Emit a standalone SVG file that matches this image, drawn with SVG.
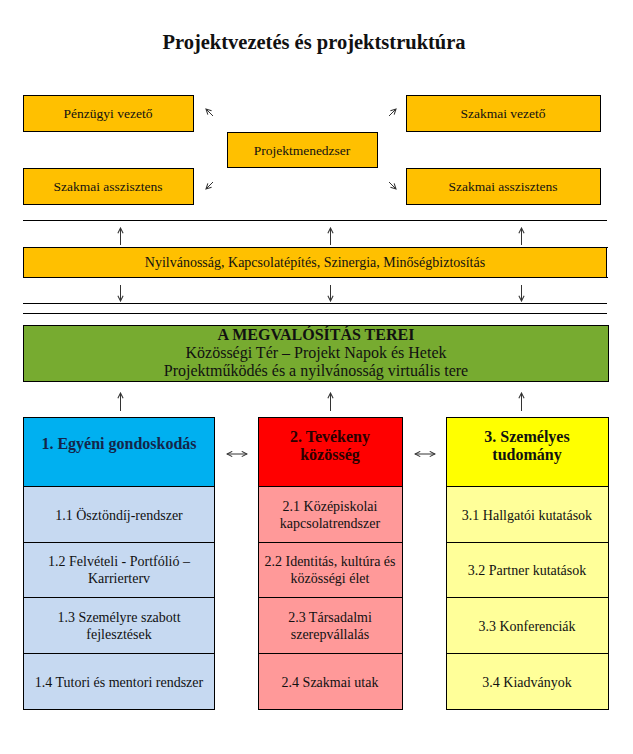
<svg xmlns="http://www.w3.org/2000/svg" width="633" height="754" viewBox="0 0 633 754">
<defs>
<style>
text{font-family:"Liberation Serif","Times New Roman",serif;fill:#111;text-anchor:middle}
.t{font-size:13.5px}
.b{font-size:14px}
.c{font-size:14px}
.g{font-size:16px}
.h{font-size:16px;font-weight:bold}
.box{stroke:#000;stroke-width:1}
.or{fill:#FFC000}
.rule{stroke:#000;stroke-width:1}
.con{stroke:#333;stroke-width:1;fill:none}
</style>
<marker id="ah" viewBox="0 0 8 8" refX="7" refY="4" markerWidth="7" markerHeight="7" markerUnits="userSpaceOnUse" orient="auto-start-reverse">
<path d="M1,1 L7,4 L1,7" fill="none" stroke="#333" stroke-width="1.2"/>
</marker>
</defs>
<rect width="633" height="754" fill="#fff"/>
<text x="314" y="49" style="font-size:20.5px;font-weight:bold">Projektvezetés és projektstruktúra</text>

<g id="penzugyi-vezeto"><rect class="box or" x="23.5" y="95.5" width="170" height="36"/><text class="t" x="108" y="118">Pénzügyi vezető</text></g>
<g id="szakmai-asszisztens-bal"><rect class="box or" x="23.5" y="168.5" width="170" height="36"/><text class="t" x="108" y="191">Szakmai asszisztens</text></g>
<g id="projektmenedzser"><rect class="box or" x="227.5" y="132.5" width="150" height="35"/><text class="t" x="302" y="154.5">Projektmenedzser</text></g>
<g id="szakmai-vezeto"><rect class="box or" x="406.5" y="95.5" width="194" height="36"/><text class="t" x="503" y="118">Szakmai vezető</text></g>
<g id="szakmai-asszisztens-jobb"><rect class="box or" x="406.5" y="168.5" width="194" height="36"/><text class="t" x="503" y="191">Szakmai asszisztens</text></g>

<g id="rules">
<line class="rule" x1="23" y1="220.5" x2="607" y2="220.5"/>
<line class="rule" x1="23" y1="303.5" x2="607" y2="303.5"/>
<line class="rule" x1="23" y1="313.5" x2="607" y2="313.5"/>
</g>

<g id="nyilvanossag"><rect class="box or" x="23.5" y="247.5" width="583" height="30"/><line class="rule" x1="606" y1="247.5" x2="608" y2="247.5"/><line class="rule" x1="606" y1="277.5" x2="608" y2="277.5"/><text class="b" x="315" y="266.5">Nyilvánosság, Kapcsolatépítés, Szinergia, Minőségbiztosítás</text></g>

<g id="megvalositas-terei"><rect class="box" x="23.5" y="325.5" width="585" height="56" fill="#77AB30"/>
<text class="h" x="316" y="340">A MEGVALÓSÍTÁS TEREI</text>
<text class="g" x="316" y="358">Közösségi Tér – Projekt Napok és Hetek</text>
<text class="g" x="316" y="376">Projektműködés és a nyilvánosság virtuális tere</text></g>

<g id="egyeni-gondoskodas">
<rect class="box" x="23.5" y="417.5" width="191" height="69" fill="#00B0F0"/>
<text class="h" x="119" y="448.5" style="fill:#14254a">1. Egyéni gondoskodás</text>
<rect class="box" x="23.5" y="486.5" width="191" height="56" fill="#C6D9F1"/>
<text class="c" x="119" y="519.5">1.1 Ösztöndíj-rendszer</text>
<rect class="box" x="23.5" y="542.5" width="191" height="55" fill="#C6D9F1"/>
<text class="c" x="119" y="566">1.2 Felvételi - Portfólió –</text>
<text class="c" x="119" y="583">Karrierterv</text>
<rect class="box" x="23.5" y="597.5" width="191" height="56" fill="#C6D9F1"/>
<text class="c" x="119" y="622">1.3 Személyre szabott</text>
<text class="c" x="119" y="639">fejlesztések</text>
<rect class="box" x="23.5" y="653.5" width="191" height="56" fill="#C6D9F1"/>
<text class="c" x="119" y="686.5">1.4 Tutori és mentori rendszer</text>
</g>

<g id="tevekeny-kozosseg">
<rect class="box" x="258.5" y="417.5" width="144" height="69" fill="#FF0000"/>
<text class="h" x="330" y="442" style="fill:#2a0000">2. Tevékeny</text>
<text class="h" x="330" y="460" style="fill:#2a0000">közösség</text>
<rect class="box" x="258.5" y="486.5" width="144" height="56" fill="#FF9999"/>
<text class="c" x="330" y="511">2.1 Középiskolai</text>
<text class="c" x="330" y="528">kapcsolatrendszer</text>
<rect class="box" x="258.5" y="542.5" width="144" height="55" fill="#FF9999"/>
<text class="c" x="330" y="566">2.2 Identitás, kultúra és</text>
<text class="c" x="330" y="583">közösségi élet</text>
<rect class="box" x="258.5" y="597.5" width="144" height="56" fill="#FF9999"/>
<text class="c" x="330" y="622">2.3 Társadalmi</text>
<text class="c" x="330" y="639">szerepvállalás</text>
<rect class="box" x="258.5" y="653.5" width="144" height="56" fill="#FF9999"/>
<text class="c" x="330" y="686.5">2.4 Szakmai utak</text>
</g>

<g id="szemelyes-tudomany">
<rect class="box" x="446.5" y="417.5" width="162" height="69" fill="#FFFF00"/>
<text class="h" x="527" y="442">3. Személyes</text>
<text class="h" x="527" y="460">tudomány</text>
<rect class="box" x="446.5" y="486.5" width="162" height="56" fill="#FFFF99"/>
<text class="c" x="527" y="519.5">3.1 Hallgatói kutatások</text>
<rect class="box" x="446.5" y="542.5" width="162" height="55" fill="#FFFF99"/>
<text class="c" x="527" y="574.5">3.2 Partner kutatások</text>
<rect class="box" x="446.5" y="597.5" width="162" height="56" fill="#FFFF99"/>
<text class="c" x="527" y="630.5">3.3 Konferenciák</text>
<rect class="box" x="446.5" y="653.5" width="162" height="56" fill="#FFFF99"/>
<text class="c" x="527" y="686.5">3.4 Kiadványok</text>
</g>

<g id="connectors" class="con">
<line x1="213" y1="116" x2="206" y2="109" marker-end="url(#ah)"/>
<line x1="389" y1="116" x2="396" y2="109" marker-end="url(#ah)"/>
<line x1="213" y1="182" x2="206" y2="189" marker-end="url(#ah)"/>
<line x1="389" y1="182" x2="396" y2="189" marker-end="url(#ah)"/>
<line x1="120.5" y1="245" x2="120.5" y2="228" marker-end="url(#ah)"/>
<line x1="330.5" y1="245" x2="330.5" y2="228" marker-end="url(#ah)"/>
<line x1="521.5" y1="245" x2="521.5" y2="228" marker-end="url(#ah)"/>
<line x1="120.5" y1="285" x2="120.5" y2="301" marker-end="url(#ah)"/>
<line x1="330.5" y1="285" x2="330.5" y2="301" marker-end="url(#ah)"/>
<line x1="521.5" y1="285" x2="521.5" y2="301" marker-end="url(#ah)"/>
<line x1="120.5" y1="411" x2="120.5" y2="393" marker-end="url(#ah)"/>
<line x1="330.5" y1="411" x2="330.5" y2="393" marker-end="url(#ah)"/>
<line x1="521.5" y1="411" x2="521.5" y2="393" marker-end="url(#ah)"/>
<line x1="227" y1="454" x2="247" y2="454" marker-start="url(#ah)" marker-end="url(#ah)"/>
<line x1="415" y1="454" x2="435" y2="454" marker-start="url(#ah)" marker-end="url(#ah)"/>
</g>
</svg>
